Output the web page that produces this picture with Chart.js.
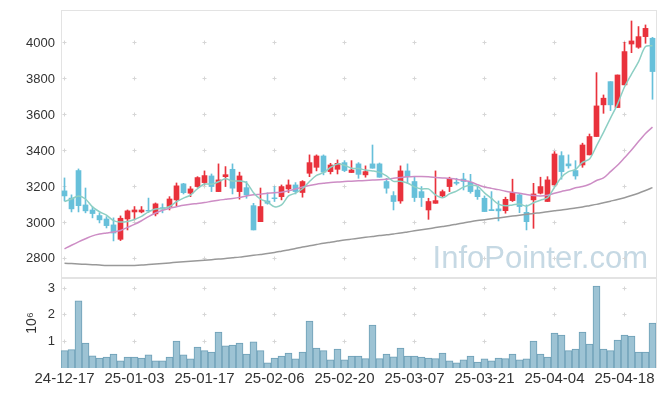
<!DOCTYPE html>
<html>
<head>
<meta charset="utf-8">
<script src="https://cdn.jsdelivr.net/npm/chart.js@4.4.1/dist/chart.umd.min.js"></script>
<style>
  html, body { margin: 0; padding: 0; background: #fff; }
  #wrap { position: relative; width: 665px; height: 396px; overflow: hidden; }
  #wrap canvas { position: absolute; left: 0; }
</style>
</head>
<body>
<div id="wrap">
  <canvas id="priceChart" width="665" height="279" style="top:0;width:665px;height:279px"></canvas>
  <canvas id="volChart" width="665" height="118" style="top:278px;width:665px;height:118px"></canvas>
</div>
<script>
// trading days shown on the x axis
const dates = [
  '24-12-17','24-12-18','24-12-19','24-12-20','24-12-23','24-12-24','24-12-26','24-12-27','24-12-30','25-01-02',
  '25-01-03','25-01-06','25-01-07','25-01-08','25-01-09','25-01-10','25-01-13','25-01-14','25-01-15','25-01-16',
  '25-01-17','25-01-20','25-01-21','25-01-22','25-01-23','25-01-24','25-01-31','25-02-03','25-02-04','25-02-05',
  '25-02-06','25-02-07','25-02-10','25-02-11','25-02-12','25-02-13','25-02-14','25-02-17','25-02-18','25-02-19',
  '25-02-20','25-02-21','25-02-24','25-02-25','25-02-26','25-02-27','25-02-28','25-03-04','25-03-05','25-03-06',
  '25-03-07','25-03-10','25-03-11','25-03-12','25-03-13','25-03-14','25-03-17','25-03-18','25-03-19','25-03-20',
  '25-03-21','25-03-24','25-03-25','25-03-26','25-03-27','25-03-28','25-03-31','25-04-01','25-04-02','25-04-03',
  '25-04-04','25-04-07','25-04-08','25-04-09','25-04-10','25-04-11','25-04-14','25-04-15','25-04-16','25-04-17',
  '25-04-18','25-04-21','25-04-22','25-04-23','25-04-24'
];

const openP = [
  3178,3138,3291,3100,3072,3041,3022,2989,2909,3022,
  3061,3061,3070,3050,3085,3091,3128,3217,3165,3202,
  3224,3261,3174,3257,3298,3174,3196,3096,3007,3122,
  3139,3146,3189,3211,3169,3276,3309,3372,3285,3298,
  3335,3280,3328,3267,3328,3328,3230,3152,3122,3289,
  3230,3174,3072,3109,3150,3202,3226,3244,3226,3183,
  3137,3074,3078,3068,3124,3156,3059,3128,3165,3119,
  3211,3374,3328,3291,3322,3378,3480,3656,3785,3641,
  3767,3994,3976,4035,4026
];
const highP = [
  3250,3156,3300,3194,3089,3056,3035,3028,3039,3072,
  3091,3091,3138,3111,3106,3146,3222,3220,3202,3257,
  3289,3272,3328,3313,3328,3282,3230,3109,3194,3167,
  3202,3211,3239,3224,3235,3378,3378,3378,3331,3350,
  3346,3346,3335,3317,3433,3333,3248,3174,3317,3328,
  3257,3202,3137,3289,3183,3254,3248,3276,3270,3202,
  3150,3174,3122,3143,3243,3161,3100,3220,3254,3257,
  3396,3396,3378,3346,3443,3494,3835,3711,3785,3822,
  4004,4122,4091,4100,4031
];
const lowP = [
  3122,3061,3061,3056,3028,3000,2972,2900,2902,2961,
  3017,3056,3058,3039,3056,3072,3094,3161,3146,3198,
  3211,3174,3174,3202,3161,3132,3137,2961,3007,3104,
  3119,3128,3169,3161,3143,3257,3289,3267,3272,3272,
  3285,3280,3248,3254,3304,3254,3165,3072,3109,3220,
  3119,3091,3020,3109,3143,3174,3211,3183,3165,3131,
  3063,3068,3011,3054,3119,3057,2961,2970,3161,3119,
  3211,3243,3304,3243,3309,3378,3480,3609,3624,3641,
  3767,3946,3970,3998,3687
];
const closeP = [
  3150,3078,3096,3067,3052,3017,2985,2944,3026,3067,
  3072,3072,3066,3106,3078,3133,3206,3168,3189,3252,
  3263,3202,3239,3268,3193,3261,3156,2961,3091,3109,
  3135,3202,3211,3174,3230,3335,3372,3282,3322,3331,
  3291,3294,3270,3285,3304,3254,3193,3119,3289,3257,
  3141,3141,3119,3124,3174,3248,3220,3230,3174,3146,
  3063,3068,3067,3131,3169,3091,3007,3161,3202,3239,
  3383,3285,3317,3261,3433,3480,3650,3693,3656,3822,
  3952,4011,4035,4081,3841
];

// moving averages
const ma5 = [
  3119,3133,3150,3133,3089,3062,3043,3013,3005,3008,
  3019,3036,3061,3077,3079,3091,3118,3138,3155,3190,
  3216,3215,3229,3245,3233,3233,3223,3168,3132,3116,
  3090,3100,3150,3166,3190,3230,3264,3279,3308,3328,
  3320,3304,3302,3294,3289,3281,3261,3231,3232,3222,
  3200,3189,3189,3156,3140,3161,3177,3199,3209,3204,
  3167,3136,3104,3095,3100,3105,3093,3112,3126,3140,
  3198,3254,3285,3297,3336,3355,3428,3503,3582,3660,
  3755,3827,3895,3980,3984
];
const ma20 = [
  2856,2876,2895,2912,2928,2938,2944,2950,2958,2975,
  2992,3012,3035,3055,3070,3082,3090,3098,3104,3108,
  3113,3120,3126,3131,3136,3142,3150,3156,3160,3165,
  3168,3170,3178,3188,3200,3208,3215,3220,3225,3228,
  3230,3232,3234,3236,3238,3240,3243,3248,3252,3256,
  3258,3258,3256,3253,3250,3247,3243,3236,3228,3213,
  3200,3192,3185,3176,3170,3165,3158,3152,3150,3154,
  3165,3175,3183,3195,3202,3215,3236,3250,3285,3320,
  3362,3405,3452,3497,3532
];
const ma60 = [
  2776,2774,2772,2770,2768,2766,2764,2763,2763,2763,
  2764,2766,2769,2772,2775,2778,2781,2784,2787,2790,
  2793,2796,2799,2802,2806,2810,2815,2820,2825,2830,
  2836,2843,2850,2858,2866,2873,2880,2887,2893,2899,
  2905,2910,2915,2920,2925,2930,2934,2939,2944,2950,
  2956,2962,2968,2974,2980,2986,2993,3000,3007,3013,
  3018,3023,3028,3033,3038,3043,3048,3053,3057,3062,
  3067,3072,3078,3083,3089,3096,3103,3112,3121,3130,
  3140,3152,3165,3180,3196
];

// volume, millions of shares
const volume = [
  0.65,0.69,2.52,0.94,0.46,0.37,0.41,0.52,0.27,0.41,
  0.41,0.37,0.49,0.27,0.27,0.41,1.01,0.49,0.34,0.79,
  0.65,0.60,1.35,0.83,0.86,0.94,0.52,0.98,0.65,0.19,
  0.37,0.45,0.56,0.34,0.60,1.76,0.75,0.65,0.31,0.71,
  0.31,0.45,0.45,0.35,1.61,0.35,0.52,0.42,0.75,0.45,
  0.45,0.41,0.37,0.35,0.56,0.27,0.19,0.31,0.45,0.22,
  0.34,0.27,0.37,0.35,0.52,0.31,0.34,1.01,0.52,0.41,
  1.31,1.24,0.65,0.71,1.35,0.90,3.08,0.71,0.65,1.05,
  1.24,1.20,0.60,0.60,1.69
];

const priceTicks = [2800, 3000, 3200, 3400, 3600, 3800, 4000];
const volTicks = [1, 2, 3];
const dateTickIdx = [0, 10, 20, 30, 40, 50, 60, 70, 80];

const UP = '#e9323c';
const DOWN = '#67c0da';
const candleColors = closeP.map((c, i) => c >= openP[i] ? UP : DOWN);

Chart.defaults.font.family = "'Liberation Sans', Arial, sans-serif";
Chart.defaults.font.size = 13;
Chart.defaults.color = '#333';

// keep the plot box fixed, whatever the label sizes are
function fixY(s) {
  s.width = 61;
  s.paddingTop = 0;
  s.paddingBottom = 0;
}
function fixX(s) {
  s.height = 28;
  s.paddingLeft = 0;
  s.paddingRight = 0;
}

// frame, "+" grid marks and watermark
const panelDeco = {
  id: 'panelDeco',
  beforeDatasetsDraw(chart, args, opts) {
    const { ctx, chartArea: a, scales } = chart;
    ctx.save();
    if (opts.watermark) {
      ctx.font = "31px 'Liberation Sans', Arial, sans-serif";
      ctx.fillStyle = '#c6d9e4';
      ctx.textAlign = 'right';
      ctx.textBaseline = 'alphabetic';
      ctx.fillText(opts.watermark, a.right - 8, a.bottom - 10);
    }
    ctx.strokeStyle = '#e3e3e3';
    ctx.lineWidth = 1;
    ctx.strokeRect(a.left + 0.5, a.top + 0.5, a.right - a.left, a.bottom - a.top - 1);

    ctx.strokeStyle = '#d6d6d6';
    dateTickIdx.forEach(idx => {
      const x = Math.floor(scales.x.getPixelForValue(idx)) + 0.5;
      opts.yTicks.forEach(v => {
        const y = Math.floor(scales.y.getPixelForValue(v)) + 0.5;
        ctx.beginPath();
        ctx.moveTo(x - 2, y); ctx.lineTo(x + 2, y);
        ctx.moveTo(x, y - 2); ctx.lineTo(x, y + 2);
        ctx.stroke();
      });
    });
    ctx.restore();
  }
};

const maLine = (label, data, color) => ({
  type: 'line', label: label, data: data,
  borderColor: color, borderWidth: 1.5,
  pointRadius: 0, tension: 0.3, order: 0
});

new Chart(document.getElementById('priceChart'), {
  type: 'bar',
  data: {
    labels: dates,
    datasets: [
      maLine('MA5', ma5, '#8dcfc4'),
      maLine('MA20', ma20, '#cd8dc5'),
      maLine('MA60', ma60, '#999999'),
      {
        label: 'body', data: openP.map((o, i) => [o, closeP[i]]),
        backgroundColor: candleColors, barThickness: 5, grouped: false, order: 1
      },
      {
        label: 'wick', data: lowP.map((l, i) => [l, highP[i]]),
        backgroundColor: candleColors, barThickness: 1, grouped: false, order: 2
      }
    ]
  },
  plugins: [panelDeco],
  options: {
    responsive: false,
    animation: false,
    layout: { padding: { top: 10, right: 9, bottom: 1, left: 0 } },
    plugins: {
      legend: { display: false },
      tooltip: { enabled: false },
      panelDeco: { watermark: 'InfoPointer.com', yTicks: priceTicks }
    },
    scales: {
      x: { display: false, offset: true },
      y: {
        min: 2694, max: 4183,
        grid: { display: false, drawTicks: false }, border: { display: false },
        afterBuildTicks: s => { s.ticks = priceTicks.map(v => ({ value: v })); },
        afterFit: fixY,
        ticks: { padding: 6, callback: v => String(v) }
      }
    }
  }
});

new Chart(document.getElementById('volChart'), {
  type: 'bar',
  data: {
    labels: dates,
    datasets: [{
      label: 'volume', data: volume,
      backgroundColor: '#9dc3d4', borderColor: '#6d9fb6', borderWidth: 1,
      barPercentage: 1, categoryPercentage: 1
    }]
  },
  plugins: [panelDeco],
  options: {
    responsive: false,
    animation: false,
    layout: { padding: { top: 0, right: 9, bottom: 0, left: 0 } },
    plugins: {
      legend: { display: false },
      tooltip: { enabled: false },
      panelDeco: { yTicks: volTicks }
    },
    scales: {
      x: {
        offset: true,
        grid: { display: false, drawTicks: false }, border: { display: false },
        afterBuildTicks: s => { s.ticks = dateTickIdx.map(v => ({ value: v })); },
        afterFit: fixX,
        ticks: { autoSkip: false, maxRotation: 0, padding: 2, font: { size: 15 } }
      },
      y: {
        min: 0, max: 3.38,
        grid: { display: false, drawTicks: false }, border: { display: false },
        afterBuildTicks: s => { s.ticks = volTicks.map(v => ({ value: v })); },
        afterFit: fixY,
        ticks: { padding: 6, callback: v => String(v) },
        title: { display: true, text: '10⁶', padding: { top: 24, bottom: 0 }, font: { size: 14 } }
      }
    }
  }
});
</script>
</body>
</html>
